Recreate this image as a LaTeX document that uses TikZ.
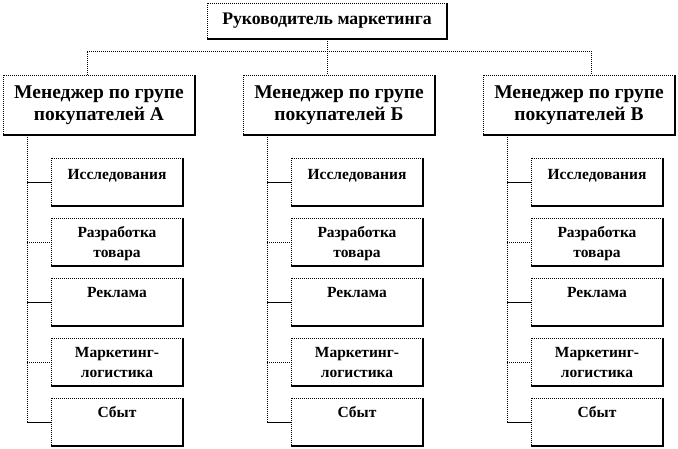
\documentclass[tikz,border=0pt]{standalone}
\usepackage{fontspec}
\setmainfont{Liberation Serif}
\begin{document}
\begin{tikzpicture}[x=1pt,y=-1pt,
  dots/.style={line width=0.9pt, dash pattern=on 1pt off 1pt},
  box/.style={draw, dots, inner sep=0pt, outer sep=0pt},
  topbox/.style={box, minimum width=240pt, minimum height=36pt, font=\bfseries\fontsize{17.7}{20}\selectfont},
  mgr/.style={box, minimum width=192pt, minimum height=60pt, align=center, font=\bfseries\fontsize{19.5}{22}\selectfont},
  subbox/.style={box, minimum width=132pt, minimum height=48pt},
  subtxt/.style={anchor=north, align=center, inner sep=0pt, font=\bfseries\fontsize{15.5}{20}\selectfont},
  conn/.style={line width=0.9pt, dash pattern=on 1pt off 1pt},
  br/.style={line width=1pt},
  shade/.style={line width=1.3pt}
]
\useasboundingbox (0,0) rectangle (678,448);

\node[topbox] (top) at (327,21) {Руководитель маркетинга};

\node[mgr] (mA) at (99,105) {Менеджер по групе\\покупателей А};
\node[mgr] (mB) at (339,105) {Менеджер по групе\\покупателей Б};
\node[mgr] (mC) at (579,105) {Менеджер по групе\\покупателей В};

\foreach \c/\x in {A/117, B/357, C/597} {
  \foreach \k/\t/\d in {1/Исследования/11, 2/{Разработка\\товара}/8, 3/Реклама/9, 4/{Маркетинг-\\логистика}/9, 5/Сбыт/8} {
    \node[subbox] (s\c\k) at (\x, 122+60*\k) {};
    \node[subtxt] (t\c\k) at ([yshift=-\d pt]s\c\k.north) {\t};
  }
}

% shadows (solid right and bottom edges)
\foreach \n in {top, mA, mB, mC, sA1, sA2, sA3, sA4, sA5, sB1, sB2, sB3, sB4, sB5, sC1, sC2, sC3, sC4, sC5} {
  \draw[shade] (\n.north east) -- (\n.south east) -- (\n.south west);
}

% top connectors
\coordinate (hA) at (87,51);
\coordinate (hC) at (591,51);
\draw[conn] (top.south) -- (top.south |- mB.north);
\draw[conn] (hA |- mA.north) -- (hA) -- (hC) -- (hC |- mC.north);

% manager to subunits
\foreach \c in {A, B, C} {
  \coordinate (v\c) at ([xshift=24pt]m\c.south west);
  \draw[conn] (v\c) -- (v\c |- s\c5.west);
  \draw[br] (v\c |- s\c1.west) -- (s\c1.west);
  \draw[conn] (v\c |- s\c2.west) -- (s\c2.west);
  \draw[br] (v\c |- s\c3.west) -- (s\c3.west);
  \draw[conn] (v\c |- s\c4.west) -- (s\c4.west);
  \draw[br] (v\c |- s\c5.west) -- (s\c5.west);
}
\end{tikzpicture}
\end{document}
